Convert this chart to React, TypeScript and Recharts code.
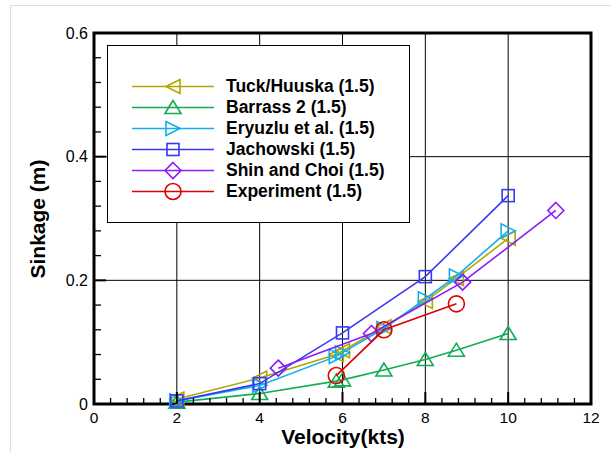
import React from "react";
import {
  ReferenceArea,
  ReferenceLine,
  Scatter,
  ScatterChart,
  XAxis,
  YAxis,
} from "recharts";

// values
const tuckX = [2, 4, 5.85, 6, 7, 8, 8.75, 10];
const tuckY = [0.008, 0.042, 0.08, 0.086, 0.125, 0.166, 0.203, 0.268];
const barrassX = [2, 4, 5.85, 6, 7, 8, 8.75, 10];
const barrassY = [0.003, 0.017, 0.037, 0.039, 0.055, 0.072, 0.087, 0.114];
const eryuzluX = [2, 4, 5.85, 6, 7, 8, 8.75, 10];
const eryuzluY = [0.005, 0.03, 0.077, 0.083, 0.122, 0.17, 0.207, 0.28];
const jachowskiX = [2, 4, 6, 8, 10];
const jachowskiY = [0.005, 0.033, 0.115, 0.206, 0.337];
const shinX = [4.45, 6.7, 8.9, 11.15];
const shinY = [0.058, 0.114, 0.197, 0.313];
const expX = [5.85, 7, 8.75];
const expY = [0.046, 0.12, 0.162];

const xMajor = [0, 2, 4, 6, 8, 10, 12];
const yMajor = [0, 0.2, 0.4, 0.6];
const xGrid = [2, 4, 6, 8, 10];
const yGrid = [0.2, 0.4];

// minor ticks (axis decoration only)
const xTicks = Array.from({ length: 31 }, (_, i) => +(i * 0.4).toFixed(2));
const yTicks = Array.from({ length: 16 }, (_, i) => +(i * 0.04).toFixed(2));

const FONT = '"Liberation Sans", Arial, sans-serif';

type Kind = "left" | "up" | "right" | "square" | "diamond" | "circle";

const toPoints = (xs: number[], ys: number[]) =>
  xs.map((x, i) => ({ x, y: ys[i] }));

const series: { name: string; color: string; kind: Kind; data: { x: number; y: number }[] }[] = [
  { name: "Tuck/Huuska (1.5)", color: "#b2a600", kind: "left", data: toPoints(tuckX, tuckY) },
  { name: "Barrass 2 (1.5)", color: "#10ad55", kind: "up", data: toPoints(barrassX, barrassY) },
  { name: "Eryuzlu et al. (1.5)", color: "#12aef2", kind: "right", data: toPoints(eryuzluX, eryuzluY) },
  { name: "Jachowski (1.5)", color: "#3838f5", kind: "square", data: toPoints(jachowskiX, jachowskiY) },
  { name: "Shin and Choi (1.5)", color: "#8a1cf5", kind: "diamond", data: toPoints(shinX, shinY) },
  { name: "Experiment (1.5)", color: "#e00000", kind: "circle", data: toPoints(expX, expY) },
];

function Marker({ kind, cx, cy, color }: { kind: Kind; cx: number; cy: number; color: string }) {
  const p = { fill: "none", stroke: color, strokeWidth: 1.6 };
  switch (kind) {
    case "left":
      return <polygon points={`${cx - 7},${cy} ${cx + 7},${cy - 7} ${cx + 7},${cy + 7}`} {...p} />;
    case "right":
      return <polygon points={`${cx + 7},${cy} ${cx - 7},${cy - 7} ${cx - 7},${cy + 7}`} {...p} />;
    case "up":
      return <polygon points={`${cx},${cy - 7} ${cx - 8},${cy + 6} ${cx + 8},${cy + 6}`} {...p} />;
    case "square":
      return <rect x={cx - 6} y={cy - 6} width={12} height={12} {...p} />;
    case "diamond":
      return <polygon points={`${cx},${cy - 8} ${cx + 8},${cy} ${cx},${cy + 8} ${cx - 8},${cy}`} {...p} />;
    default:
      return <circle cx={cx} cy={cy} r={8} {...p} />;
  }
}

function XTick(props: any) {
  const { x, y, payload } = props;
  const v = payload.value as number;
  const major = xMajor.some((m) => Math.abs(m - v) < 1e-6);
  return (
    <g>
      <line x1={x} x2={x} y1={y} y2={y - (major ? 12 : 6)} stroke="#000" strokeWidth={major ? 2 : 1.3} />
      {major && (
        <text x={x} y={y + 18.5} textAnchor="middle" fontSize={15.5} fontFamily={FONT} fill="#000">
          {Math.round(v)}
        </text>
      )}
    </g>
  );
}

function YTick(props: any) {
  const { x, y, payload } = props;
  const v = payload.value as number;
  const major = yMajor.some((m) => Math.abs(m - v) < 1e-6);
  return (
    <g>
      <line x1={x} x2={x + (major ? 12 : 7)} y1={y} y2={y} stroke="#000" strokeWidth={major ? 2 : 1.3} />
      {major && (
        <text x={x - 6} y={y + 5.5} textAnchor="end" fontSize={16} fontFamily={FONT} fill="#000">
          {v === 0 ? "0" : v.toFixed(1)}
        </text>
      )}
    </g>
  );
}

export default function App() {
  return (
    <div style={{ position: "absolute", left: 0, top: 0, width: 611, height: 452, background: "#fff", fontFamily: FONT }}>
      <div
        style={{
          position: "absolute",
          left: 10,
          top: 5,
          right: 0,
          bottom: 0,
          borderTop: "1px solid #dcdcdc",
          borderLeft: "1px solid #dcdcdc",
        }}
      />
      <ScatterChart width={611} height={452} margin={{ top: 33, right: 20, bottom: 18, left: 54 }}>
        <XAxis
          type="number"
          dataKey="x"
          domain={[0, 12]}
          ticks={xTicks}
          interval={0}
          tick={<XTick />}
          tickSize={0}
          tickMargin={0}
          tickLine={false}
          axisLine={false}
          height={30}
        />
        <YAxis
          type="number"
          dataKey="y"
          domain={[0, 0.6]}
          ticks={yTicks}
          interval={0}
          tick={<YTick />}
          tickSize={0}
          tickMargin={0}
          tickLine={false}
          axisLine={false}
          width={40}
        />
        {xGrid.map((g) => (
          <ReferenceLine key={`gx${g}`} x={g} stroke="#000" strokeWidth={1} />
        ))}
        {yGrid.map((g) => (
          <ReferenceLine key={`gy${g}`} y={g} stroke="#000" strokeWidth={1} />
        ))}
        <ReferenceArea x1={0} x2={12} y1={0} y2={0.6} fill="none" fillOpacity={0} stroke="#000" strokeWidth={3} />
        {series.map((s) => (
          <Scatter
            key={s.name}
            name={s.name}
            data={s.data}
            line={{ stroke: s.color, strokeWidth: 1.6 }}
            lineType="joint"
            isAnimationActive={false}
            shape={(p: any) => <Marker kind={s.kind} cx={p.cx} cy={p.cy} color={s.color} />}
          />
        ))}
      </ScatterChart>

      {/* legend box */}
      <div
        style={{
          position: "absolute",
          left: 107,
          top: 45,
          width: 303,
          height: 178,
          boxSizing: "border-box",
          border: "1px solid #000",
          background: "#fff",
        }}
      >
        {series.map((s, i) => (
          <div key={s.name} style={{ position: "absolute", left: 0, top: 30 + i * 21, height: 21, width: 300 }}>
            <svg width={90} height={21} style={{ position: "absolute", left: 24, top: 0 }}>
              <line x1={0} x2={82} y1={10.5} y2={10.5} stroke={s.color} strokeWidth={1.6} />
              <Marker kind={s.kind} cx={41} cy={10.5} color={s.color} />
            </svg>
            <div
              style={{
                position: "absolute",
                left: 118,
                top: 0,
                lineHeight: "21px",
                fontSize: 17.5,
                fontWeight: "bold",
                whiteSpace: "nowrap",
                color: "#000",
              }}
            >
              {s.name}
            </div>
          </div>
        ))}
      </div>

      {/* axis titles */}
      <div
        style={{
          position: "absolute",
          left: 38,
          top: 219,
          transform: "translate(-50%, -50%) rotate(-90deg)",
          fontSize: 21,
          fontWeight: "bold",
          lineHeight: "22px",
          whiteSpace: "nowrap",
        }}
      >
        Sinkage (m)
      </div>
      <div
        style={{
          position: "absolute",
          left: 343,
          top: 429,
          transform: "translateX(-50%)",
          fontSize: 21,
          fontWeight: "bold",
          lineHeight: "15px",
          whiteSpace: "nowrap",
        }}
      >
        Velocity(kts)
      </div>
    </div>
  );
}
